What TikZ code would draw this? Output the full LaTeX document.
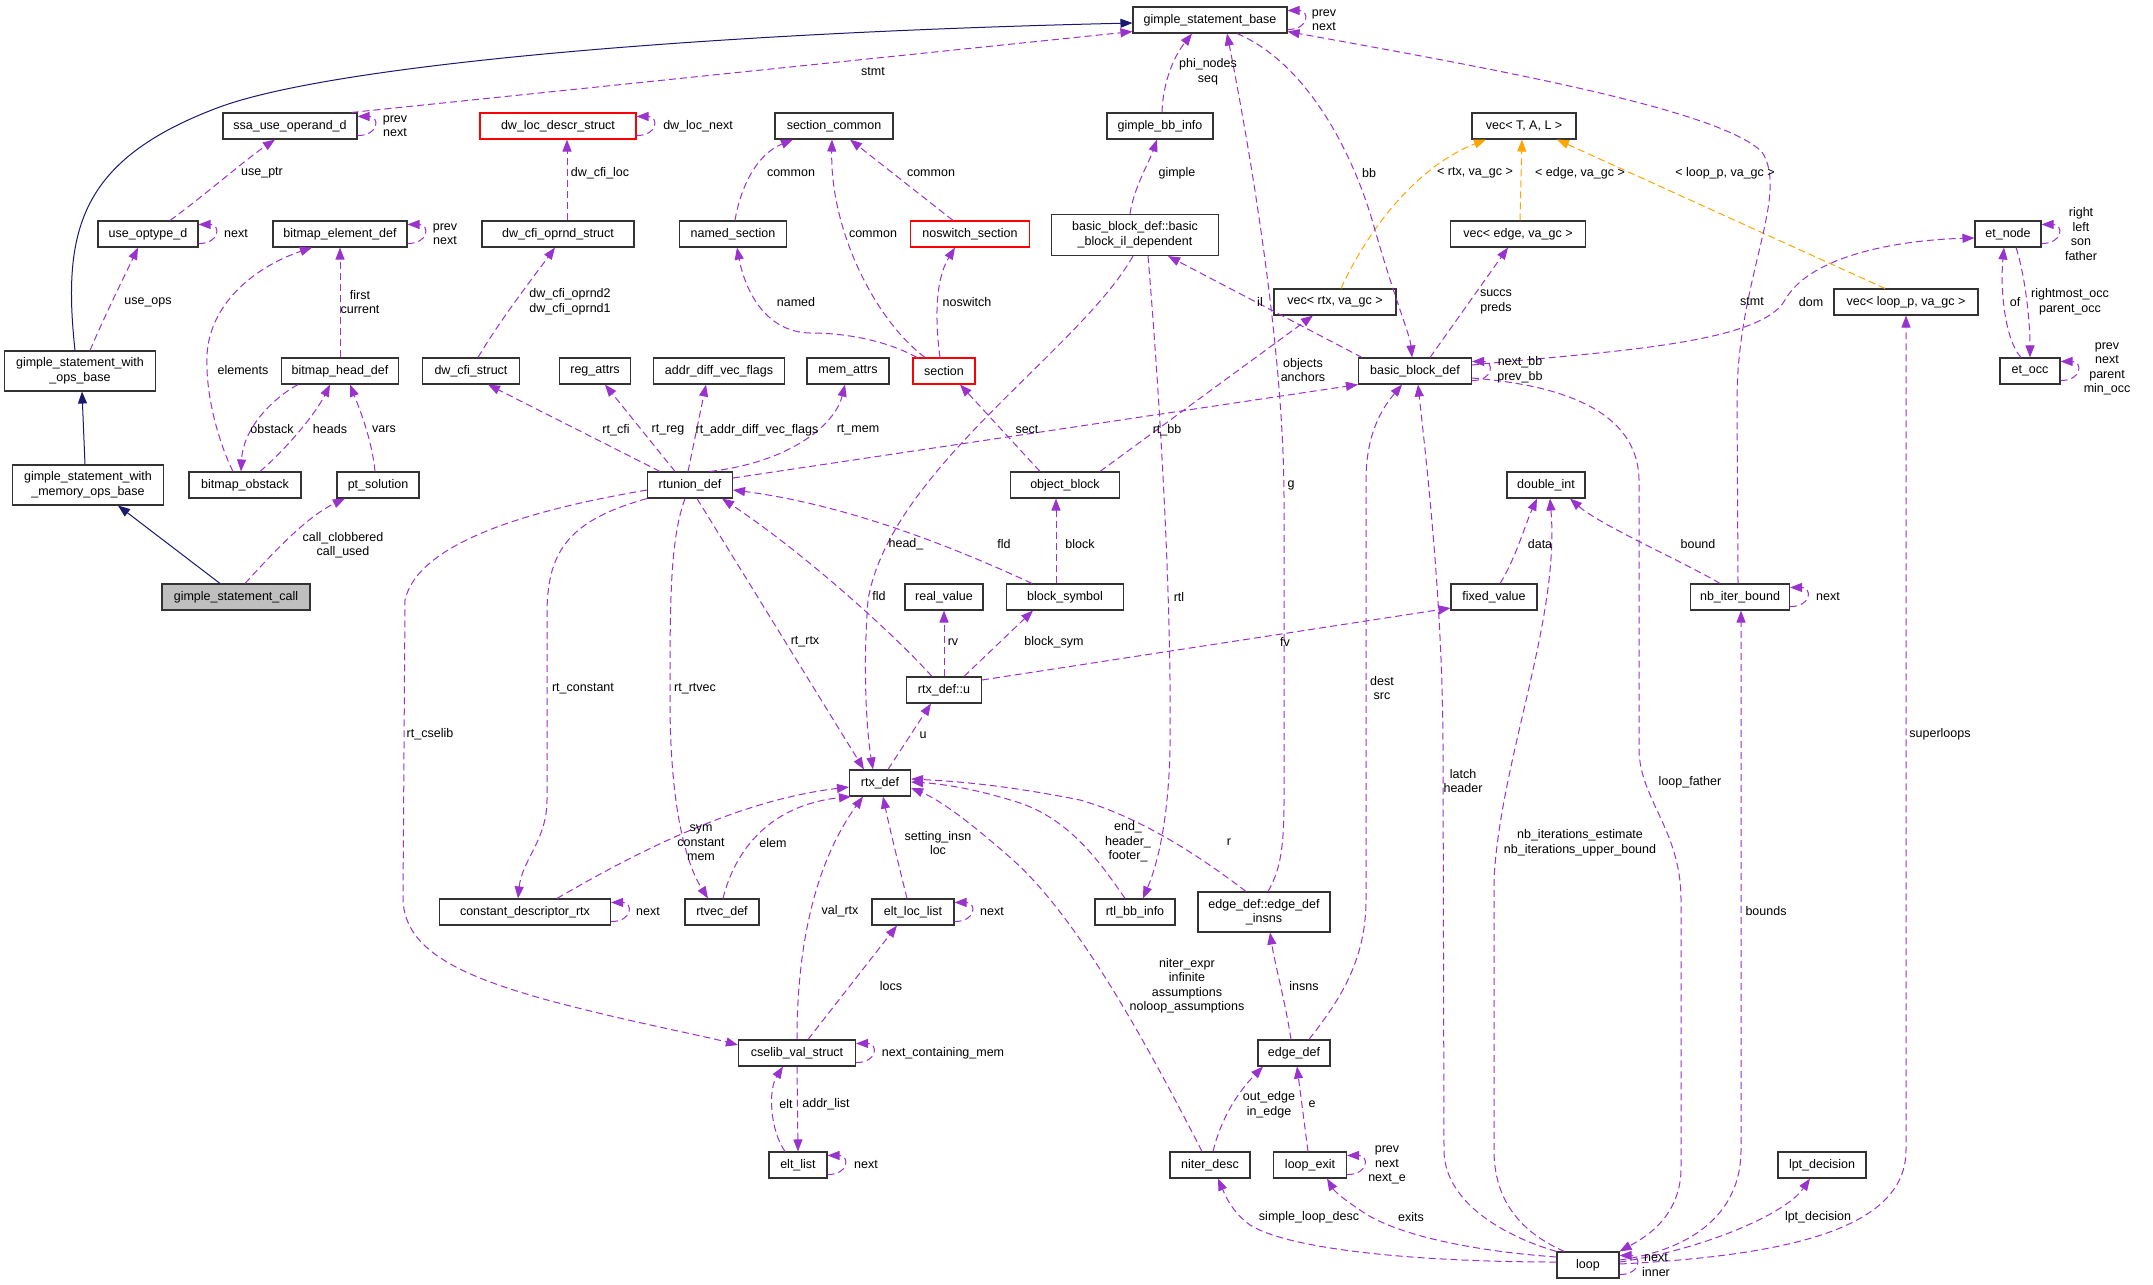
\documentclass[tikz,border=0pt]{standalone}
\usepackage{fontspec}
\setmainfont{Liberation Sans}
\usepackage{tikz}
\usetikzlibrary{arrows.meta}
\definecolor{edgeviolet}{HTML}{9A32CD}
\definecolor{inhnavy}{HTML}{191970}
\definecolor{tmplorange}{HTML}{FFA500}
\definecolor{mainfill}{HTML}{BFBFBF}
\newcommand{\dxfont}{\fontsize{12.5}{14.5}\selectfont}
\tikzset{
  cls/.style={draw=black!80, fill=white, line width=1.1pt, minimum height=26pt, inner xsep=3pt, inner ysep=2pt, font=\dxfont, align=center},
  undoc/.style={cls, draw=red},
  lbl/.style={font=\dxfont, align=center, inner sep=0pt},
  use/.style={draw=edgeviolet, line width=1pt, dash pattern=on 7pt off 4pt, -{Triangle[length=12pt,width=9pt]}},
  tmpl/.style={use, draw=tmplorange},
  inh/.style={draw=inhnavy, line width=1pt, -{Triangle[length=12pt,width=9pt]}}
}

\begin{document}
\begin{tikzpicture}[x=1pt, y=-1pt]
	\path[fill=white] (0,0) rectangle (2153,1285);
	\useasboundingbox (0,0) rectangle (2153,1285);
	% classes
	\node[cls, minimum width=154pt] (gsb) at (1210,20) {gimple\_statement\_base};
	\node[cls, minimum width=134pt] (ssa) at (290,126) {ssa\_use\_operand\_d};
	\node[undoc, minimum width=156pt] (dwloc) at (558,126) {dw\_loc\_descr\_struct};
	\node[cls, minimum width=118pt] (seccommon) at (834,126) {section\_common};
	\node[cls, minimum width=106pt] (gbbinfo) at (1160,126) {gimple\_bb\_info};
	\node[cls, minimum width=104pt] (vectal) at (1524,126) {vec< T, A, L >};
	\node[cls, minimum width=100pt] (useopt) at (148,234) {use\_optype\_d};
	\node[cls, minimum width=134pt] (bmelem) at (340,234) {bitmap\_element\_def};
	\node[cls, minimum width=152pt] (dwoprnd) at (558,234) {dw\_cfi\_oprnd\_struct};
	\node[cls, minimum width=107pt] (namedsec) at (733,234) {named\_section};
	\node[undoc, minimum width=119pt] (noswitch) at (970,234) {noswitch\_section};
	\node[cls, minimum width=167pt, minimum height=41pt] (bbil) at (1135,235) {basic\_block\_def::basic\\\_block\_il\_dependent};
	\node[cls, minimum width=135pt] (vecedge) at (1518,234) {vec< edge, va\_gc >};
	\node[cls, minimum width=66pt] (etnode) at (2008,234) {et\_node};
	\node[cls, minimum width=122pt] (vecrtx) at (1335,302) {vec< rtx, va\_gc >};
	\node[cls, minimum width=144pt] (veclp) at (1906,302) {vec< loop\_p, va\_gc >};
	\node[cls, minimum width=151pt, minimum height=40pt] (gswob) at (80,371) {gimple\_statement\_with\\\_ops\_base};
	\node[cls, minimum width=117pt] (bmhead) at (340,371) {bitmap\_head\_def};
	\node[cls, minimum width=97pt] (dwcfi) at (471,371) {dw\_cfi\_struct};
	\node[cls, minimum width=71pt] (regattrs) at (595,371) {reg\_attrs};
	\node[cls, minimum width=131pt] (advflags) at (719,371) {addr\_diff\_vec\_flags};
	\node[cls, minimum width=82pt] (memattrs) at (848,371) {mem\_attrs};
	\node[undoc, minimum width=62pt] (section) at (944,371) {section};
	\node[cls, minimum width=113pt] (bbd) at (1415,371) {basic\_block\_def};
	\node[cls, minimum width=60pt] (etocc) at (2030,371) {et\_occ};
	\node[cls, minimum width=151pt, minimum height=40pt] (gswmob) at (88,485) {gimple\_statement\_with\\\_memory\_ops\_base};
	\node[cls, minimum width=112pt] (bmobst) at (245,485) {bitmap\_obstack};
	\node[cls, minimum width=82pt] (ptsol) at (378,485) {pt\_solution};
	\node[cls, minimum width=85pt] (rtunion) at (690,485) {rtunion\_def};
	\node[cls, minimum width=109pt] (objblock) at (1065,485) {object\_block};
	\node[cls, minimum width=78pt] (doubleint) at (1546,485) {double\_int};
	\node[cls, fill=mainfill, minimum width=148pt] (gcall) at (236,597) {gimple\_statement\_call};
	\node[cls, minimum width=78pt] (realval) at (944,597) {real\_value};
	\node[cls, minimum width=117pt] (blocksym) at (1065,597) {block\_symbol};
	\node[cls, minimum width=86pt] (fixedval) at (1494,597) {fixed\_value};
	\node[cls, minimum width=99pt] (nbiter) at (1740,597) {nb\_iter\_bound};
	\node[cls, minimum width=75pt] (rtxu) at (944,690) {rtx\_def::u};
	\node[cls, minimum width=61pt] (rtxdef) at (880,783) {rtx\_def};
	\node[cls, minimum width=171pt] (cdrtx) at (525,912) {constant\_descriptor\_rtx};
	\node[cls, minimum width=74pt] (rtvec) at (722,912) {rtvec\_def};
	\node[cls, minimum width=82pt] (eltloc) at (913,912) {elt\_loc\_list};
	\node[cls, minimum width=80pt] (rtlbb) at (1135,912) {rtl\_bb\_info};
	\node[cls, minimum width=132pt, minimum height=40pt] (edinsns) at (1264,912) {edge\_def::edge\_def\\\_insns};
	\node[cls, minimum width=117pt] (cselib) at (797,1053) {cselib\_val\_struct};
	\node[cls, minimum width=72pt] (edgedef) at (1294,1053) {edge\_def};
	\node[cls, minimum width=58pt] (eltlist) at (798,1165) {elt\_list};
	\node[cls, minimum width=80pt] (niter) at (1210,1165) {niter\_desc};
	\node[cls, minimum width=73pt] (loopexit) at (1310,1165) {loop\_exit};
	\node[cls, minimum width=88pt] (lpt) at (1822,1165) {lpt\_decision};
	\node[cls, minimum width=62pt] (loop) at (1588,1265) {loop};
	% inheritance
	\draw[inh] ([xshift=-5pt]gswob.north) .. controls (62,230) and (80,160) .. (217,108) .. controls (330,65) and (700,33) .. ([yshift=-3pt]gsb.west);
	\draw[inh] ([xshift=-3pt]gswmob.north) -- ([xshift=2pt]gswob.south);
	\draw[inh] ([xshift=-16pt]gcall.north) -- ([xshift=30pt]gswmob.south);
	% template instances
	\draw[tmpl] ([xshift=6pt]vecrtx.north) .. controls (1370,225) and (1420,165) .. ([xshift=-38pt]vectal.south);
	\draw[tmpl] ([xshift=2pt]vecedge.north) -- ([xshift=-2pt]vectal.south);
	\draw[tmpl] ([xshift=-21pt]veclp.north) -- ([xshift=33pt]vectal.south);
	% self references
	\draw[use] ([yshift=4pt]ssa.south east) .. controls +(22,0) and +(22,0) .. ([yshift=-4pt]ssa.north east);
	\draw[use] ([yshift=4pt]useopt.south east) .. controls +(22,0) and +(22,0) .. ([yshift=-4pt]useopt.north east);
	\draw[use] ([yshift=4pt]bmelem.south east) .. controls +(22,0) and +(22,0) .. ([yshift=-4pt]bmelem.north east);
	\draw[use] ([yshift=4pt]dwloc.south east) .. controls +(22,0) and +(22,0) .. ([yshift=-4pt]dwloc.north east);
	\draw[use] ([yshift=4pt]gsb.south east) .. controls +(22,0) and +(22,0) .. ([yshift=-4pt]gsb.north east);
	\draw[use] ([yshift=4pt]bbd.south east) .. controls +(22,0) and +(22,0) .. ([yshift=-4pt]bbd.north east);
	\draw[use] ([yshift=4pt]etnode.south east) .. controls +(22,0) and +(22,0) .. ([yshift=-4pt]etnode.north east);
	\draw[use] ([yshift=4pt]etocc.south east) .. controls +(22,0) and +(22,0) .. ([yshift=-4pt]etocc.north east);
	\draw[use] ([yshift=4pt]nbiter.south east) .. controls +(22,0) and +(22,0) .. ([yshift=-4pt]nbiter.north east);
	\draw[use] ([yshift=4pt]cdrtx.south east) .. controls +(22,0) and +(22,0) .. ([yshift=-4pt]cdrtx.north east);
	\draw[use] ([yshift=4pt]eltloc.south east) .. controls +(22,0) and +(22,0) .. ([yshift=-4pt]eltloc.north east);
	\draw[use] ([yshift=4pt]cselib.south east) .. controls +(22,0) and +(22,0) .. ([yshift=-4pt]cselib.north east);
	\draw[use] ([yshift=4pt]eltlist.south east) .. controls +(22,0) and +(22,0) .. ([yshift=-4pt]eltlist.north east);
	\draw[use] ([yshift=4pt]loopexit.south east) .. controls +(22,0) and +(22,0) .. ([yshift=-4pt]loopexit.north east);
	\draw[use] ([yshift=4pt]loop.south east) .. controls +(22,0) and +(22,0) .. ([yshift=-4pt]loop.north east);
	% members, left part
	\draw[use] ([xshift=-6pt]ssa.north east) -- ([yshift=2pt]gsb.south west);
	\draw[use] ([xshift=22pt]useopt.north) .. controls (205,195) and (245,160) .. ([xshift=-15pt]ssa.south);
	\draw[use] ([xshift=10pt]gswob.north) .. controls (105,315) and (125,275) .. ([xshift=-10pt]useopt.south);
	\draw[use] (bmhead.north) -- (bmelem.south);
	\draw[use] ([xshift=-12pt]bmobst.north) .. controls (222,450) and (205,400) .. (207,355) .. controls (210,300) and (260,265) .. ([xshift=-28pt]bmelem.south);
	\draw[use] ([xshift=-42pt]bmhead.south) .. controls (270,400) and (243,430) .. ([xshift=-4pt]bmobst.north);
	\draw[use] ([xshift=15pt]bmobst.north) .. controls (285,450) and (315,415) .. ([xshift=-10pt]bmhead.south);
	\draw[use] ([xshift=-3pt]ptsol.north) .. controls (372,440) and (360,410) .. ([xshift=10pt]bmhead.south);
	\draw[use] ([xshift=9pt]gcall.north) .. controls (280,545) and (310,515) .. ([xshift=-33pt]ptsol.south);
	\draw[use] ([xshift=9pt]dwoprnd.north) -- ([xshift=9pt]dwloc.south);
	\draw[use] ([xshift=7pt]dwcfi.north) .. controls (500,320) and (535,275) .. ([xshift=-3pt]dwoprnd.south);
	\draw[use] ([xshift=2pt]namedsec.north) .. controls (740,190) and (755,155) .. ([xshift=-41pt]seccommon.south);
	\draw[use] ([xshift=-19pt]section.north) .. controls (875,320) and (830,230) .. ([xshift=-2pt]seccommon.south);
	\draw[use] ([xshift=-17pt]noswitch.north) -- ([xshift=16pt]seccommon.south);
	\draw[use] ([xshift=-27pt]section.north) .. controls (885,340) and (845,333) .. (810,333) .. controls (765,332) and (745,290) .. ([xshift=4pt]namedsec.south);
	\draw[use] ([xshift=-4pt]section.north) .. controls (935,320) and (935,280) .. ([xshift=-15pt]noswitch.south);
	% rtunion_def and rtx_def
	\draw[use] ([xshift=-30pt]rtunion.north) -- ([xshift=17pt]dwcfi.south);
	\draw[use] ([xshift=-15pt]rtunion.north) -- ([xshift=10pt]regattrs.south);
	\draw[use] ([xshift=-2pt]rtunion.north) -- ([xshift=-13pt]advflags.south);
	\draw[use] ([xshift=20pt]rtunion.north) .. controls (790,462) and (835,425) .. ([xshift=-3pt]memattrs.south);
	\draw[use] ([xshift=-25pt]objblock.north) -- ([xshift=16pt]section.south);
	\draw[use] ([yshift=7pt]rtunion.east) -- (bbd.south west);
	\draw[use] ([xshift=35pt]objblock.north) -- ([xshift=-22pt]vecrtx.south);
	\draw[use] ([xshift=7pt]rtunion.south) -- ([xshift=-16pt]rtxdef.north);
	\draw[use] ([xshift=-12pt]rtxu.north) .. controls (890,630) and (800,550) .. ([xshift=32pt]rtunion.south);
	\draw[use] ([xshift=-33pt]blocksym.north) .. controls (960,550) and (850,505) .. ([yshift=-5pt]rtunion.east);
	\draw[use] ([xshift=8pt]rtxdef.north) -- ([xshift=-13pt]rtxu.south);
	\draw[use] (rtxu.north) -- (realval.south);
	\draw[use] ([xshift=20pt]rtxu.north) -- ([xshift=-32pt]blocksym.south);
	\draw[use] ([yshift=10pt]rtxu.east) -- ([yshift=-11pt]fixedval.west);
	\draw[use] ([xshift=-9pt]blocksym.north) -- ([xshift=-9pt]objblock.south);
	\draw[use] ([xshift=-5pt]rtunion.south) .. controls (670,540) and (670,600) .. (670,700) .. controls (670,820) and (690,870) .. ([xshift=-14pt]rtvec.north);
	\draw[use] ([xshift=1pt]rtvec.north) .. controls (735,850) and (770,805) .. ([xshift=2pt]rtxdef.south west);
	\draw[use] ([xshift=32pt]cdrtx.north) .. controls (640,850) and (740,800) .. ([yshift=-4pt]rtxdef.west);
	\draw[use] (rtunion.south west) .. controls (570,520) and (548,550) .. (547,610) -- (547,800) .. controls (547,840) and (522,860) .. ([xshift=-7pt]cdrtx.north);
	\draw[use] ([yshift=-5pt]rtunion.west) .. controls (560,505) and (420,535) .. (405,600) -- (403,900) .. controls (405,950) and (460,975) .. (540,998) .. controls (620,1020) and (700,1035) .. ([yshift=8pt]cselib.west);
	\draw[use] (cselib.north) .. controls (797,960) and (810,870) .. ([xshift=-17pt]rtxdef.south);
	\draw[use] ([xshift=11pt]cselib.north) -- ([xshift=-16pt]eltloc.south);
	\draw[use] ([xshift=-6pt]eltloc.north) .. controls (900,870) and (890,830) .. ([xshift=3pt]rtxdef.south);
	\draw[use] (cselib.south) -- (eltlist.north);
	\draw[use] ([xshift=-13pt]eltlist.north) .. controls (770,1130) and (768,1090) .. ([xshift=-14pt]cselib.south);
	% basic blocks
	\draw[use] ([xshift=2pt]gbbinfo.north) .. controls (1163,80) and (1175,55) .. ([xshift=-18pt]gsb.south);
	\draw[use] ([xshift=-5pt]bbil.north) .. controls (1133,190) and (1150,160) .. ([xshift=-3pt]gbbinfo.south);
	\draw[use] ([xshift=4pt]edinsns.north) .. controls (1280,870) and (1284,850) .. (1284,800) -- (1284,500) .. controls (1284,350) and (1250,150) .. ([xshift=17pt]gsb.south);
	\draw[use] ([xshift=27pt]gsb.south) .. controls (1300,60) and (1350,140) .. (1375,230) .. controls (1395,300) and (1410,335) .. ([xshift=-3pt]bbd.north);
	\draw[use] ([xshift=-2pt]nbiter.north) -- (1737,400) .. controls (1737,280) and (1790,195) .. (1762,152) .. controls (1720,110) and (1500,70) .. ([yshift=2pt]gsb.south east);
	\draw[use] ([xshift=-53pt]bbd.north) -- ([xshift=33pt]bbil.south);
	\draw[use] ([xshift=15pt]bbd.north) -- ([xshift=-10pt]vecedge.south);
	\draw[use] ([yshift=6pt]bbd.east) .. controls (1600,352) and (1760,345) .. (1785,300) .. controls (1810,255) and (1900,240) .. ([yshift=-4pt]etnode.west);
	\draw[use] ([xshift=-9pt]etocc.north) .. controls (2005,340) and (2000,290) .. ([xshift=-4pt]etnode.south);
	\draw[use] ([xshift=8pt]etnode.south) .. controls (2025,275) and (2030,320) .. (etocc.north);
	\draw[use] ([xshift=-2pt]bbil.south) .. controls (1080,350) and (890,470) .. (868,600) .. controls (862,680) and (868,740) .. ([xshift=-7pt]rtxdef.north);
	\draw[use] ([xshift=13pt]bbil.south) .. controls (1160,400) and (1172,600) .. (1170,750) .. controls (1168,830) and (1155,870) .. ([xshift=8pt]rtlbb.north);
	\draw[use] ([xshift=-10pt]rtlbb.north) .. controls (1100,862) and (1070,820) .. (1020,803) .. controls (980,790) and (945,784) .. ([yshift=1pt]rtxdef.east);
	\draw[use] ([xshift=-18pt]edinsns.north) .. controls (1215,868) and (1150,820) .. (1080,800) .. controls (1000,784) and (950,781) .. ([yshift=4pt]rtxdef.east);
	\draw[use] ([xshift=-8pt]niter.north) .. controls (1150,1050) and (1080,920) .. (1013,860) .. controls (970,822) and (940,800) .. ([yshift=-5pt]rtxdef.east);
	\draw[use] ([xshift=3pt]niter.north) .. controls (1222,1115) and (1240,1090) .. ([xshift=-31pt]edgedef.south);
	\draw[use] ([xshift=-2pt]loopexit.north) -- ([xshift=3pt]edgedef.south);
	\draw[use] ([xshift=-3pt]edgedef.north) .. controls (1285,1000) and (1275,965) .. ([xshift=6pt]edinsns.south);
	\draw[use] ([xshift=15pt]edgedef.north) .. controls (1340,1000) and (1366,960) .. (1366,900) -- (1366,480) .. controls (1366,430) and (1385,405) .. ([xshift=-13pt]bbd.south);
	% loops
	\draw[use] (loop.north west) .. controls (1500,1235) and (1444,1200) .. (1444,1150) -- (1443,750) .. controls (1443,600) and (1425,450) .. ([xshift=3pt]bbd.south);
	\draw[use] ([xshift=8pt]loop.north west) .. controls (1520,1232) and (1494,1200) .. (1494,1150) -- (1494,880) .. controls (1500,760) and (1560,620) .. ([xshift=4pt]doubleint.south);
	\draw[use] ([xshift=6pt]fixedval.north) .. controls (1515,560) and (1525,525) .. ([xshift=-9pt]doubleint.south);
	\draw[use] ([xshift=-20pt]nbiter.north) .. controls (1680,560) and (1600,525) .. ([xshift=24pt]doubleint.south);
	\draw[use] ([yshift=5pt]loop.east) .. controls (1690,1250) and (1741,1215) .. (1741,1150) -- ([xshift=1pt]nbiter.south);
	\draw[use] ([yshift=-7pt]bbd.east) .. controls (1560,385) and (1638,410) .. (1639,480) -- (1639,750) .. controls (1640,800) and (1681,830) .. (1681,900) -- (1681,1170) .. controls (1680,1220) and (1640,1240) .. (loop.north east);
	\draw[use] ([yshift=1pt]loop.east) .. controls (1800,1255) and (1906,1225) .. (1906,1150) -- (veclp.south);
	\draw[use] ([yshift=3pt]loop.east) .. controls (1700,1250) and (1785,1215) .. ([xshift=-12pt]lpt.south);
	\draw[use] ([yshift=3pt]loop.west) .. controls (1420,1262) and (1290,1250) .. (1250,1225) .. controls (1232,1212) and (1225,1195) .. ([xshift=8pt]niter.south);
	\draw[use] ([yshift=8pt]loop.west) .. controls (1460,1250) and (1390,1232) .. (1360,1210) .. controls (1345,1200) and (1335,1192) .. ([xshift=17pt]loopexit.south);
	% member labels
	\node[lbl] (t-ssa-loop) at (395,126) {prev\\next};
	\node[lbl] (t-useptr) at (262,173) {use\_ptr};
	\node[lbl] (t-useopt-loop) at (236,234) {next};
	\node[lbl] (t-useops) at (148,302) {use\_ops};
	\node[lbl] (t-bmelem-loop) at (445,234) {prev\\next};
	\node[lbl] (t-first) at (360,302) {first\\current};
	\node[lbl] (t-elements) at (243,370) {elements};
	\node[lbl] (t-obstack) at (272,429) {obstack};
	\node[lbl] (t-heads) at (330,429) {heads};
	\node[lbl] (t-vars) at (384,429) {vars};
	\node[lbl] (t-call) at (343,545) {call\_clobbered\\call\_used};
	\node[lbl] (t-dwloc-loop) at (698,126) {dw\_loc\_next};
	\node[lbl] (t-dwcfiloc) at (600,173) {dw\_cfi\_loc};
	\node[lbl] (t-oprnd) at (570,302) {dw\_cfi\_oprnd2\\dw\_cfi\_oprnd1};
	\node[lbl] (t-common1) at (791,173) {common};
	\node[lbl] (t-common2) at (873,234) {common};
	\node[lbl] (t-common3) at (931,173) {common};
	\node[lbl] (t-named) at (796,302) {named};
	\node[lbl] (t-noswitch) at (967,302) {noswitch};
	\node[lbl] (t-rtcfi) at (616,430) {rt\_cfi};
	\node[lbl] (t-rtreg) at (668,430) {rt\_reg};
	\node[lbl] (t-rtadv) at (757,430) {rt\_addr\_diff\_vec\_flags};
	\node[lbl] (t-rtmem) at (858,430) {rt\_mem};
	\node[lbl] (t-sect) at (1027,430) {sect};
	\node[lbl] (t-rtbb) at (1167,430) {rt\_bb};
	\node[lbl] (t-objects) at (1303,370) {objects\\anchors};
	\node[lbl] (t-vrtx) at (1475,173) {< rtx, va\_gc >};
	\node[lbl] (t-vedge) at (1580,173) {< edge, va\_gc >};
	\node[lbl] (t-vloop) at (1725,173) {< loop\_p, va\_gc >};
	\node[lbl] (t-phi) at (1208,72) {phi\_nodes\\seq};
	\node[lbl] (t-gimple) at (1177,173) {gimple};
	\node[lbl] (t-g) at (1291,485) {g};
	\node[lbl] (t-bb) at (1369,173) {bb};
	\node[lbl] (t-stmt2) at (1752,302) {stmt};
	\node[lbl] (t-gsb-loop) at (1324,20) {prev\\next};
	\node[lbl] (t-il) at (1260,302) {il};
	\node[lbl] (t-succs) at (1496,302) {succs\\preds};
	\node[lbl] (t-dom) at (1811,302) {dom};
	\node[lbl] (t-bbd-loop) at (1520,370) {next\_bb\\prev\_bb};
	\node[lbl] (t-etnode-loop) at (2081,234) {right\\left\\son\\father};
	\node[lbl] (t-of) at (2015,302) {of};
	\node[lbl] (t-occ) at (2070,302) {rightmost\_occ\\parent\_occ};
	\node[lbl] (t-etocc-loop) at (2107,369) {prev\\next\\parent\\min\_occ};
	\node[lbl] (t-stmt1) at (873,72) {stmt};
	\node[lbl] (t-rtrtx) at (805,642) {rt\_rtx};
	\node[lbl] (t-fld1) at (879,596) {fld};
	\node[lbl] (t-fld2) at (1004,544) {fld};
	\node[lbl] (t-head) at (906,544) {head\_};
	\node[lbl] (t-u) at (923,735) {u};
	\node[lbl] (t-rv) at (953,642) {rv};
	\node[lbl] (t-blocksym) at (1054,642) {block\_sym};
	\node[lbl] (t-fv) at (1285,642) {fv};
	\node[lbl] (t-block) at (1080,544) {block};
	\node[lbl] (t-rtl) at (1179,597) {rtl};
	\node[lbl] (t-end) at (1128,842) {end\_\\header\_\\footer\_};
	\node[lbl] (t-r) at (1229,842) {r};
	\node[lbl] (t-rtvec) at (695,689) {rt\_rtvec};
	\node[lbl] (t-elem) at (773,843) {elem};
	\node[lbl] (t-sym) at (701,843) {sym\\constant\\mem};
	\node[lbl] (t-cdrtx-loop) at (648,912) {next};
	\node[lbl] (t-rtconst) at (583,689) {rt\_constant};
	\node[lbl] (t-rtcselib) at (430,734) {rt\_cselib};
	\node[lbl] (t-valrtx) at (840,911) {val\_rtx};
	\node[lbl] (t-locs) at (891,986) {locs};
	\node[lbl] (t-setting) at (938,843) {setting\_insn\\loc};
	\node[lbl] (t-eltloc-loop) at (992,912) {next};
	\node[lbl] (t-cselib-loop) at (943,1053) {next\_containing\_mem};
	\node[lbl] (t-addr) at (826,1104) {addr\_list};
	\node[lbl] (t-elt) at (786,1104) {elt};
	\node[lbl] (t-eltlist-loop) at (866,1165) {next};
	\node[lbl] (t-niter) at (1187,986) {niter\_expr\\infinite\\assumptions\\noloop\_assumptions};
	\node[lbl] (t-edges) at (1269,1105) {out\_edge\\in\_edge};
	\node[lbl] (t-e) at (1312,1104) {e};
	\node[lbl] (t-exit-loop) at (1387,1165) {prev\\next\\next\_e};
	\node[lbl] (t-insns) at (1304,986) {insns};
	\node[lbl] (t-dest) at (1382,688) {dest\\src};
	\node[lbl] (t-latch) at (1463,781) {latch\\header};
	\node[lbl] (t-nbiter) at (1580,843) {nb\_iterations\_estimate\\nb\_iterations\_upper\_bound};
	\node[lbl] (t-data) at (1540,544) {data};
	\node[lbl] (t-bound) at (1698,544) {bound};
	\node[lbl] (t-nbiter-loop) at (1828,597) {next};
	\node[lbl] (t-bounds) at (1766,911) {bounds};
	\node[lbl] (t-father) at (1690,782) {loop\_father};
	\node[lbl] (t-super) at (1940,734) {superloops};
	\node[lbl] (t-lpt) at (1818,1217) {lpt\_decision};
	\node[lbl] (t-loop-loop) at (1656,1265) {next\\inner};
	\node[lbl] (t-simple) at (1309,1217) {simple\_loop\_desc};
	\node[lbl] (t-exits) at (1411,1217) {exits};
\end{tikzpicture}
\end{document}
